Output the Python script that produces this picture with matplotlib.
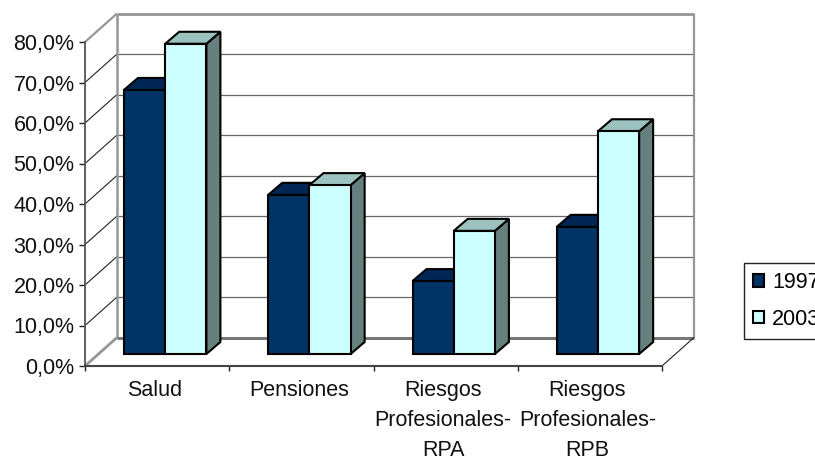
import matplotlib
matplotlib.use("Agg")
import matplotlib.pyplot as plt
from matplotlib.patches import Polygon, Patch

plt.rcParams['font.family'] = ['Liberation Sans', 'DejaVu Sans']

categories = ["Salud", "Pensiones", "Riesgos\nProfesionales-\nRPA", "Riesgos\nProfesionales-\nRPB"]
series_names = ["1997", "2003"]
values_1997 = [65.2, 39.3, 18.0, 31.4]
values_2003 = [76.6, 41.7, 30.4, 55.0]
y_ticks = [0, 10, 20, 30, 40, 50, 60, 70, 80]
y_labels = ["0,0%", "10,0%", "20,0%", "30,0%", "40,0%", "50,0%", "60,0%", "70,0%", "80,0%"]

W, H = 815, 457
fig = plt.figure(figsize=(W / 100, H / 100), dpi=100)
L, R, T, B = 85, 662, 42, 366
ax = fig.add_axes([L / W, 1 - B / H, (R - L) / W, (B - T) / H])
ax.set_xlim(0, 4)
ax.set_ylim(0, 80)
px_x = 4 / (R - L)
px_y = 80 / (B - T)

wall_dx, wall_dy = 32 * px_x, 28.5 * px_y
bar_dx, bar_dy = 14 * px_x, 12 * px_y
bar_base = 12 * px_y
bar_off = 39 * px_x
bar_w = 41.2 * px_x

GRAY = "#969696"
kw = dict(clip_on=False, solid_capstyle="butt")

# Walls: gridlines across the back wall and the left wall
for t in y_ticks[1:-1]:
    ax.plot([wall_dx, 4 + wall_dx], [t + wall_dy, t + wall_dy], color="#666666", lw=0.9, zorder=1, **kw)
    ax.plot([0, wall_dx], [t, t + wall_dy], color="#222222", lw=0.8, zorder=1, **kw)
# Top, back and floor edges
ax.plot([wall_dx, 4 + wall_dx], [80 + wall_dy, 80 + wall_dy], color=GRAY, lw=2.0, zorder=1, **kw)
ax.plot([0, wall_dx], [80, 80 + wall_dy], color=GRAY, lw=1.6, zorder=1, **kw)
ax.plot([wall_dx, wall_dx], [wall_dy, 80 + wall_dy], color=GRAY, lw=1.8, zorder=1, **kw)
ax.plot([4 + wall_dx, 4 + wall_dx], [wall_dy, 80 + wall_dy], color=GRAY, lw=1.6, zorder=1, **kw)
ax.plot([wall_dx, 4 + wall_dx], [wall_dy, wall_dy], color="#777777", lw=2.2, zorder=1, **kw)
ax.plot([0, wall_dx], [0, wall_dy], color=GRAY, lw=2.0, zorder=1, **kw)
ax.plot([4, 4 + wall_dx], [0, wall_dy], color="#222222", lw=0.8, zorder=1, **kw)


def bar3d(x, h, front, top, side, z):
    y0, y1 = bar_base, bar_base + h
    x1 = x + bar_w
    pk = dict(edgecolor="black", lw=1.5, joinstyle="miter", clip_on=False, zorder=z)
    ax.add_patch(Polygon([(x1, y0), (x1 + bar_dx, y0 + bar_dy), (x1 + bar_dx, y1 + bar_dy), (x1, y1)], facecolor=side, **pk))
    ax.add_patch(Polygon([(x, y1), (x + bar_dx, y1 + bar_dy), (x1 + bar_dx, y1 + bar_dy), (x1, y1)], facecolor=top, **pk))
    ax.add_patch(Polygon([(x, y0), (x1, y0), (x1, y1), (x, y1)], facecolor=front, **pk))


for i in range(len(categories)):
    bar3d(i + bar_off, values_1997[i], "#003366", "#002655", "#001f40", 3)
    bar3d(i + bar_off + bar_w, values_2003[i], "#CCFFFF", "#9CC2C0", "#668080", 4)

# Axes
for s in ("top", "right"):
    ax.spines[s].set_visible(False)
ax.spines["left"].set_color("#555555")
ax.spines["left"].set_linewidth(1.3)
ax.spines["bottom"].set_color("#444444")
ax.spines["bottom"].set_linewidth(1.5)
ax.patch.set_alpha(0)
ax.set_yticks(y_ticks)
ax.set_yticklabels(y_labels, fontsize=15.5, color="#111111")
ax.tick_params(axis="y", length=4, width=1, pad=3.5, color="#222222")
ax.set_xticks([0, 1, 2, 3, 4])
ax.set_xticklabels([])
ax.tick_params(axis="x", which="major", length=3.6, width=1, color="#222222")
ax.set_xticks([0.483, 1.483, 2.483, 3.483], minor=True)
ax.set_xticklabels(categories, minor=True, fontsize=15.5, color="#111111", linespacing=1.58)
ax.tick_params(axis="x", which="minor", length=0, pad=10)

# Legend
handles = [Patch(facecolor="#003366", edgecolor="black", lw=1.5, label=series_names[0]),
           Patch(facecolor="#CCFFFF", edgecolor="black", lw=1.5, label=series_names[1])]
leg = ax.legend(handles=handles, loc="upper left", bbox_to_anchor=(744 / W, 1 - 263 / H),
                bbox_transform=fig.transFigure, borderaxespad=0, fontsize=15.5,
                handlelength=0.5, handleheight=0.5, handletextpad=0.38,
                borderpad=0.42, labelspacing=0.72, fancybox=False, framealpha=1,
                edgecolor="#222222")
leg.get_frame().set_linewidth(1.0)

fig.savefig("out.png", dpi=100)
